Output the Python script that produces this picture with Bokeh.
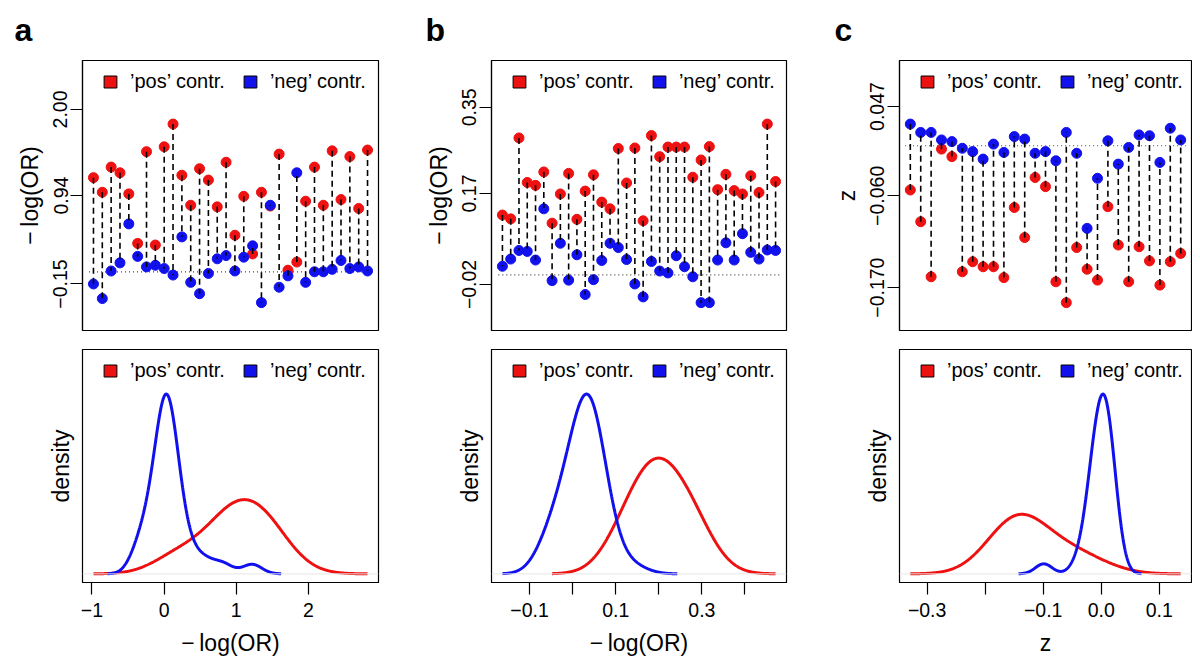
import numpy as np
from bokeh.plotting import figure
from bokeh.models import Range1d, FixedTicker, Legend, LegendItem, Span
from bokeh.layouts import column, row
from bokeh.embed import file_html
from bokeh.resources import INLINE

FONT = "Liberation Sans"
RED = "#ee1111"
BLUE = "#1111ee"

# ---------------- data ----------------
# panel a : -log(OR), 32 pairs
a_pos = [1.16, 0.98, 1.29, 1.22, 0.96, 0.35, 1.48, 0.33, 1.54, 1.82, 1.19, 0.82, 1.27, 1.13, 0.80, 1.35,
         0.45, 0.93, 0.22, 0.98, 0.81, 1.45, 0.02, 0.12, 0.87, 1.29, 0.82, 1.49, 0.89, 1.42, 0.78, 1.50]
a_neg = [-0.15, -0.33, 0.01, 0.11, 0.59, 0.19, 0.06, 0.08, 0.04, -0.04, 0.43, -0.13, -0.27, -0.02, 0.16, 0.20,
         0.01, 0.18, 0.32, -0.38, 0.82, -0.19, -0.05, 1.22, -0.13, 0.00, 0.00, 0.03, 0.14, 0.04, 0.06, 0.01]
a_yticks = [-0.15, 0.94, 2.00]
a_ytick_labels = ["\u22120.15", "0.94", "2.00"]
a_xticks = [-1, 0, 1, 2]
a_xtick_labels = ["\u22121", "0", "1", "2"]
a_bw = [0.333, 0.134]

# panel b : -log(OR), 34 pairs
b_pos = [0.125, 0.117, 0.286, 0.193, 0.187, 0.215, 0.108, 0.169, 0.212, 0.116, 0.175, 0.209, 0.152, 0.138,
         0.264, 0.192, 0.265, 0.113, 0.291, 0.247, 0.267, 0.267, 0.267, 0.204, 0.240, 0.268, 0.178, 0.210,
         0.176, 0.169, 0.207, 0.172, 0.315, 0.195]
b_neg = [0.018, 0.033, 0.051, 0.049, 0.031, 0.138, -0.012, 0.066, -0.011, 0.042, -0.041, -0.010, 0.030, 0.066,
         0.057, 0.032, -0.019, -0.046, 0.028, 0.008, 0.004, 0.040, 0.017, -0.004, -0.058, -0.058, 0.031, 0.067,
         0.031, 0.086, 0.047, 0.033, 0.052, 0.051]
b_yticks = [-0.02, 0.17, 0.35]
b_ytick_labels = ["\u22120.02", "0.17", "0.35"]
b_xticks = [-0.1, 0.0, 0.1, 0.2, 0.3, 0.4]
b_xtick_labels = ["\u22120.1", "", "0.1", "", "0.3", ""]
b_bw = [0.052, 0.035]

# panel c : z, 27 pairs
c_pos = [-0.053, -0.091, -0.157, -0.004, -0.013, -0.151, -0.139, -0.145, -0.145, -0.158, -0.074, -0.110,
         -0.038, -0.049, -0.163, -0.188, -0.122, -0.148, -0.161, -0.073, -0.119, -0.163, -0.121, -0.138,
         -0.167, -0.139, -0.129]
c_neg = [0.026, 0.016, 0.016, 0.007, 0.005, -0.003, -0.007, -0.016, 0.002, -0.008, 0.011, 0.008, -0.009,
         -0.007, -0.018, 0.016, -0.009, -0.099, -0.039, 0.006, -0.022, -0.002, 0.013, 0.012, -0.020, 0.021, 0.007]
c_yticks = [-0.170, -0.060, 0.047]
c_ytick_labels = ["\u22120.170", "\u22120.060", "0.047"]
c_xticks = [-0.3, -0.2, -0.1, 0.0, 0.1]
c_xtick_labels = ["\u22120.3", "", "\u22120.1", "0.0", "0.1"]
c_bw = [0.047, 0.0145]

legend_labels = ["\u2019pos\u2019 contr.", "\u2019neg\u2019 contr."]
panel_letters = ["a", "b", "c"]
LOGOR = "\u2212\u2009log(OR)"

# ---------------- helpers ----------------
def kde(data, bw, n=512):
    d = np.asarray(data, dtype=float)
    x = np.linspace(d.min() - 3 * bw, d.max() + 3 * bw, n)
    y = np.exp(-0.5 * ((x[:, None] - d[None, :]) / bw) ** 2).sum(1) / (len(d) * bw * np.sqrt(2 * np.pi))
    return x, y


def base_fig(fw, fh, bl, br, bt, bb, xr, yr, xloc="below"):
    p = figure(frame_width=fw, frame_height=fh, min_border_left=bl, min_border_right=br,
               min_border_top=bt, min_border_bottom=bb, x_range=xr, y_range=yr,
               x_axis_location=xloc, toolbar_location=None, tools="", output_backend="svg")
    p.grid.visible = False
    p.outline_line_color = "black"
    p.outline_line_width = 1.2
    p.outline_line_alpha = 1
    p.background_fill_color = "white"
    p.border_fill_color = "white"
    return p


def style_axis(ax, ticks, labels, label):
    ax.ticker = FixedTicker(ticks=ticks, minor_ticks=[])
    ax.major_label_overrides = dict(zip(ticks, labels))
    ax.major_tick_out = 12
    ax.major_tick_in = 0
    ax.minor_tick_out = 0
    ax.minor_tick_in = 0
    ax.major_tick_line_color = "black"
    ax.major_tick_line_width = 1.2
    ax.axis_line_color = "black"
    ax.axis_line_width = 1.2
    ax.major_label_text_font = FONT
    ax.major_label_text_font_size = "19.5px"
    ax.major_label_text_color = "black"
    ax.axis_label = label
    ax.axis_label_text_font = FONT
    ax.axis_label_text_font_size = "23px"
    ax.axis_label_text_font_style = "normal"
    ax.axis_label_text_color = "black"


def add_legend(p, fh):
    nan = np.array([np.nan])
    r1 = p.quad(left=nan, right=nan, top=nan, bottom=nan, fill_color=RED, line_color="black", line_width=1)
    r2 = p.quad(left=nan, right=nan, top=nan, bottom=nan, fill_color=BLUE, line_color="black", line_width=1)
    leg = Legend(items=[LegendItem(label=legend_labels[0], renderers=[r1]),
                        LegendItem(label=legend_labels[1], renderers=[r2])],
                 orientation="horizontal", location=(20, fh - 11 - 22),
                 glyph_width=16, glyph_height=15, label_standoff=12, spacing=17,
                 padding=0, margin=0, border_line_color=None, background_fill_alpha=0,
                 label_text_font=FONT, label_text_font_size="20px", label_text_color="black")
    p.add_layout(leg)


def top_panel(pos, neg, yticks, ylabels, ylab, letter, ldx, bl, fw, br):
    n = len(pos)
    idx = np.arange(1, n + 1)
    pad = 0.04 * (n - 1)
    allv = np.concatenate([pos, neg])
    mn, mx = allv.min(), allv.max()
    d = mx - mn
    lo, hi = mn - 0.1 * d, mx + 0.3 * d
    e = 0.04 * (hi - lo)
    p = base_fig(fw, 270, bl, br, 60, 9, Range1d(1 - pad, n + pad), Range1d(lo - e, hi + e), xloc=None)
    p.title.text = letter
    p.title.text_font = FONT
    p.title.text_font_size = "32px"
    p.title.text_font_style = "bold"
    p.title.text_color = "black"
    p.title.align = "left"
    p.title.vertical_align = "top"
    p.title.offset = ldx
    p.title.standoff = 21
    style_axis(p.yaxis[0], yticks, ylabels, ylab)
    p.yaxis[0].major_label_orientation = "vertical"
    p.yaxis[0].major_label_standoff = 3
    p.yaxis[0].axis_label_standoff = 8
    p.line([idx[0] - 0.5, idx[-1] + 0.5], [0.0, 0.0], line_dash="1 3", line_color="#444444", line_width=1.2)
    p.scatter(idx, pos, size=10, fill_color=RED, line_color=RED)
    p.scatter(idx, neg, size=10, fill_color=BLUE, line_color=BLUE)
    p.segment(idx, pos, idx, neg, line_dash="6 4", line_color="black", line_width=1.6)
    add_legend(p, 270)
    return p


def bottom_panel(pos, neg, bws, xticks, xlabels, xlab, bl, fw, br):
    xp, yp = kde(pos, bws[0])
    xn, yn = kde(neg, bws[1])
    lo, hi = min(xp[0], xn[0]), max(xp[-1], xn[-1])
    e = 0.04 * (hi - lo)
    top = 1.2 * max(yp.max(), yn.max())
    p = base_fig(fw, 233, bl, br, 10, 71, Range1d(lo - e, hi + e), Range1d(-0.04 * top, 1.04 * top))
    style_axis(p.xaxis[0], xticks, xlabels, xlab)
    p.xaxis[0].major_label_standoff = 8
    p.xaxis[0].axis_label_standoff = 10
    ya = p.yaxis[0]
    ya.ticker = FixedTicker(ticks=[], minor_ticks=[])
    ya.major_tick_out = 0
    ya.major_tick_in = 0
    ya.minor_tick_out = 0
    ya.axis_line_color = "black"
    ya.axis_label = "density"
    ya.axis_label_text_font = FONT
    ya.axis_label_text_font_size = "23px"
    ya.axis_label_text_font_style = "normal"
    ya.axis_label_text_color = "black"
    ya.axis_label_standoff = 9
    p.add_layout(Span(location=0, dimension="width", line_color="#e6e6e6", line_width=1))
    p.line(xp, yp, line_width=3, line_color=RED)
    p.line(xn, yn, line_width=3, line_color=BLUE)
    add_legend(p, 233)
    return p


# column geometry: frames start at x = 82, 491, 899
ta = top_panel(a_pos, a_neg, a_yticks, a_ytick_labels, LOGOR, panel_letters[0], -68, 82, 296, 31)
tb = top_panel(b_pos, b_neg, b_yticks, b_ytick_labels, LOGOR, panel_letters[1], -66, 82, 295, 31)
tc = top_panel(c_pos, c_neg, c_yticks, c_ytick_labels, "z", panel_letters[2], -65, 82, 292, 1)

ba = bottom_panel(a_pos, a_neg, a_bw, a_xticks, a_xtick_labels, LOGOR, 82, 296, 31)
bb = bottom_panel(b_pos, b_neg, b_bw, b_xticks, b_xtick_labels, LOGOR, 82, 295, 31)
bc = bottom_panel(c_pos, c_neg, c_bw, c_xticks, c_xtick_labels, "z", 82, 292, 1)

layout = column(row(ta, tb, tc), row(ba, bb, bc))

with open("out.html", "w") as f:
    f.write(file_html(layout, INLINE, title="contrasts"))
